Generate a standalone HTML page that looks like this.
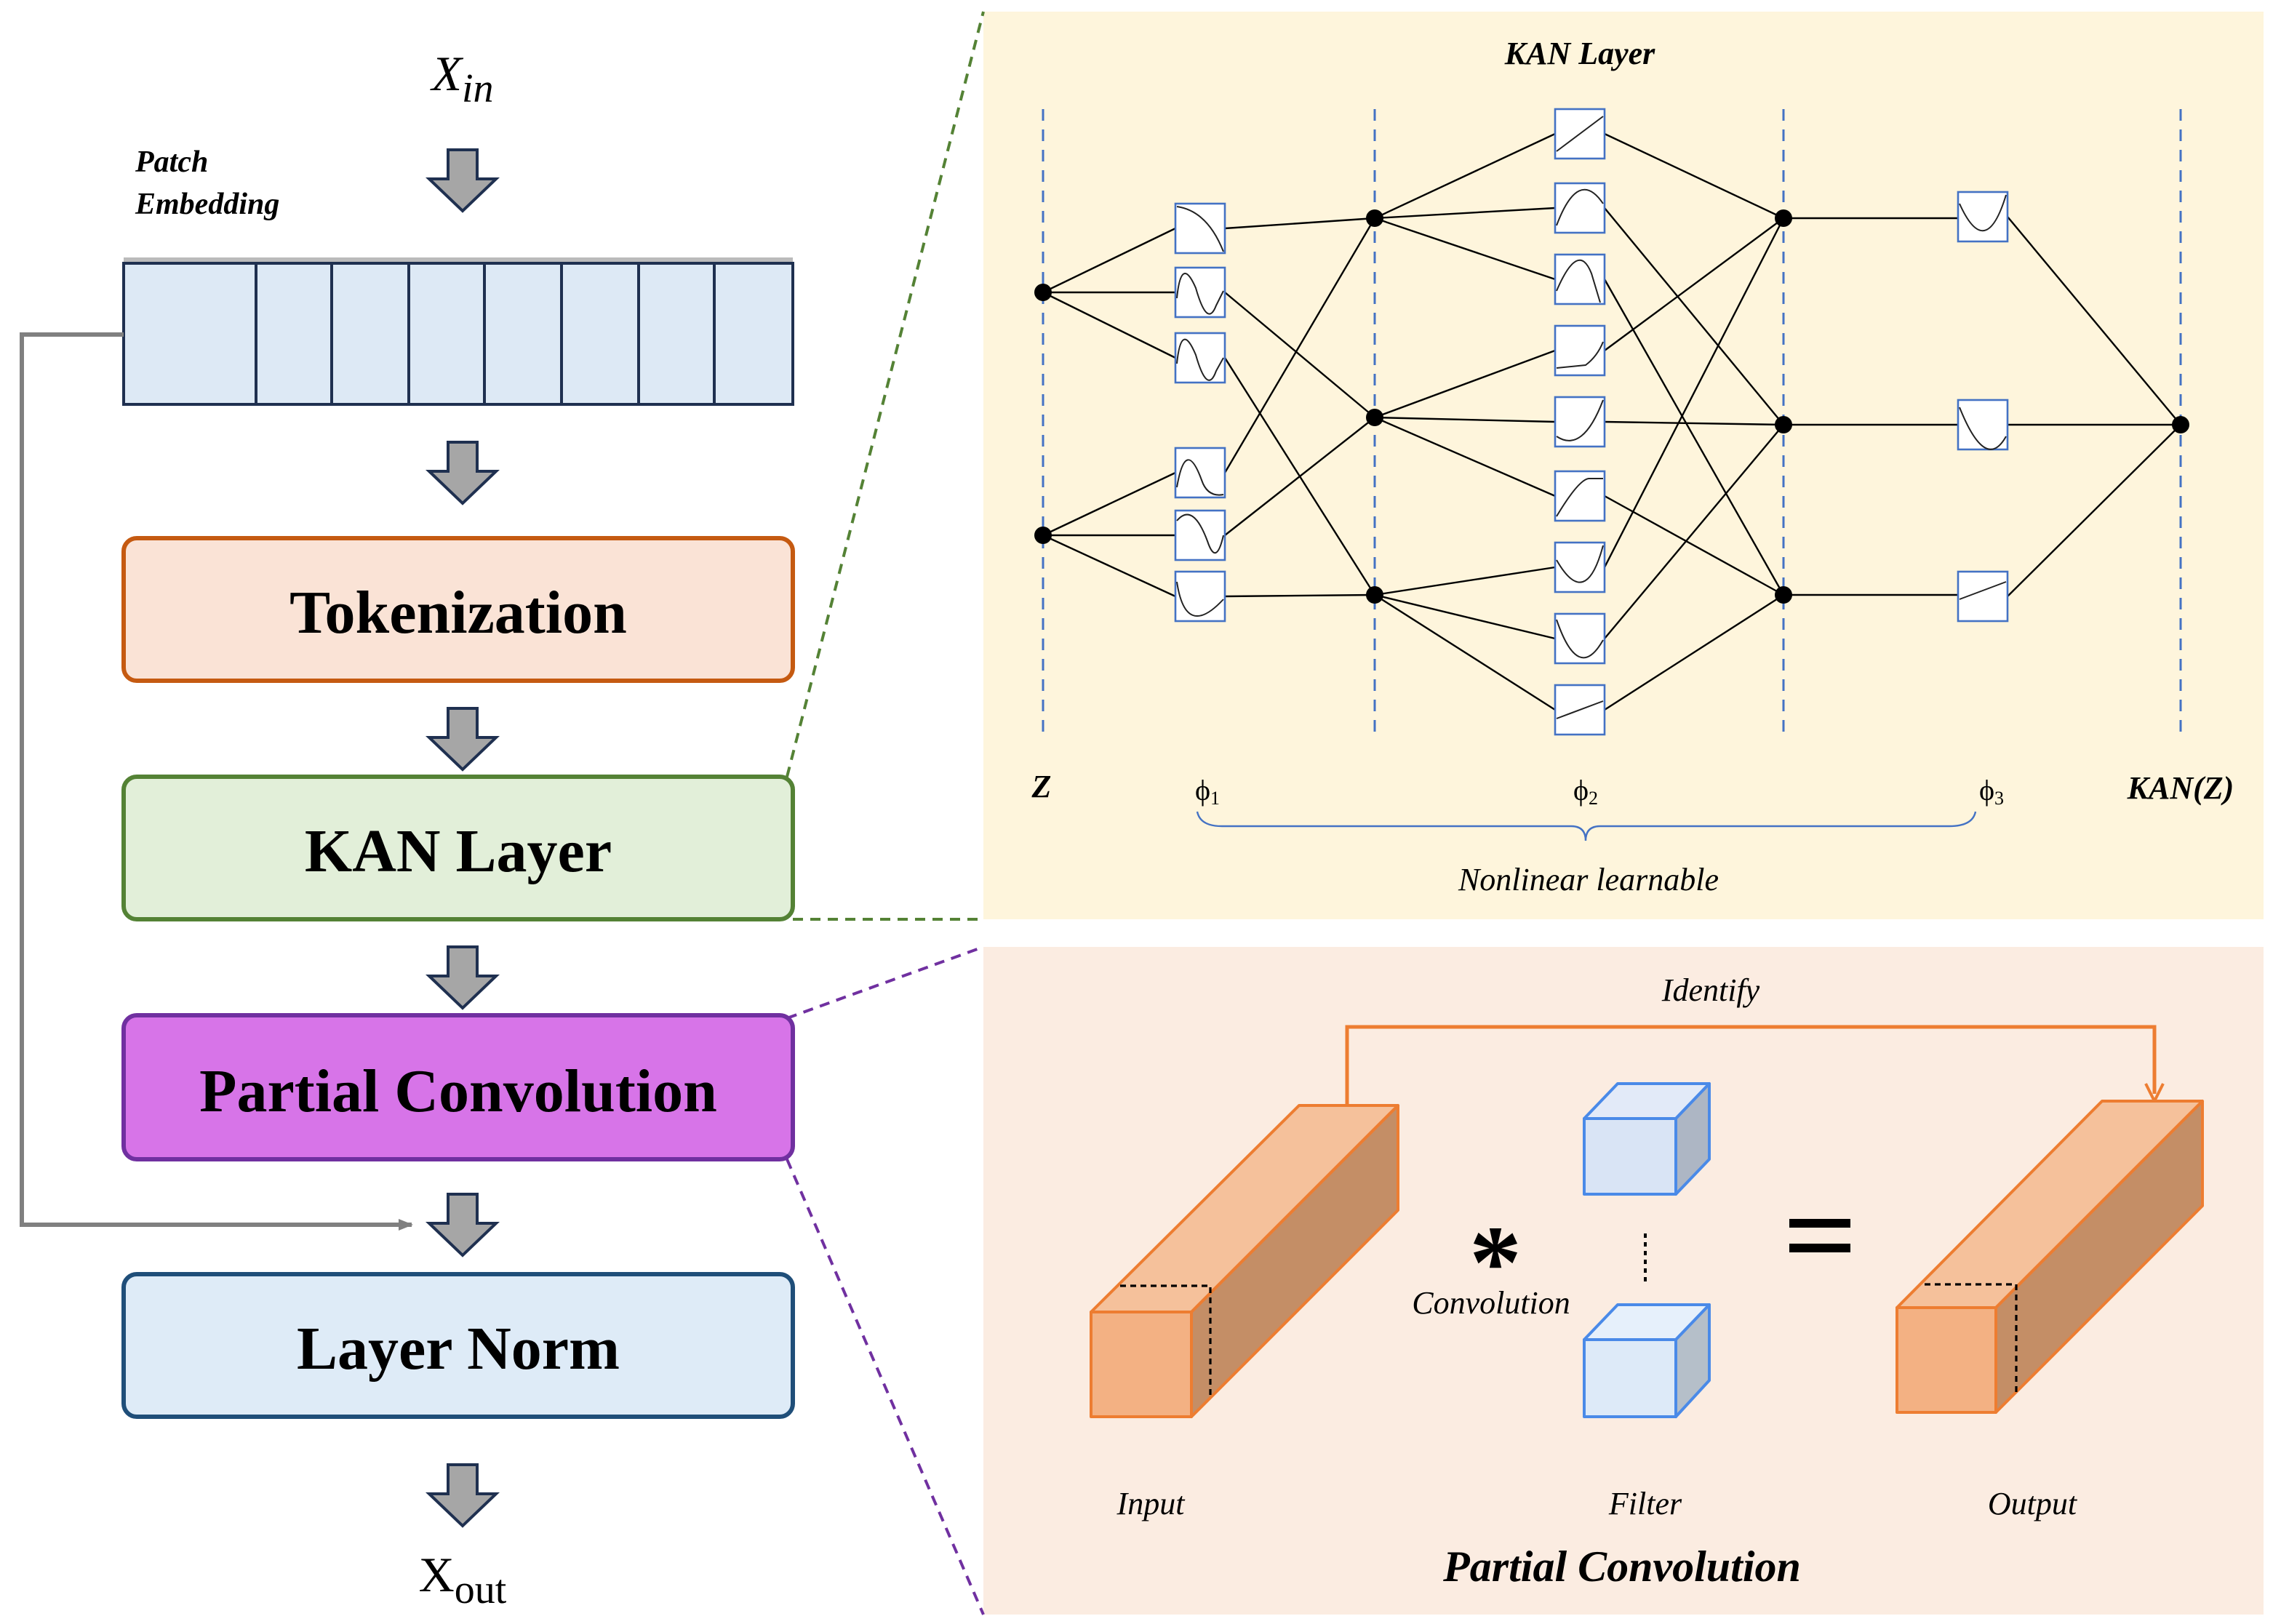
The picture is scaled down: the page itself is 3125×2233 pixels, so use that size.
<!DOCTYPE html>
<html><head><meta charset="utf-8"><style>
html,body{margin:0;padding:0;background:#fff;}
svg{display:block;}
text{font-family:"Liberation Serif",serif;}
</style></head><body>
<svg width="3125" height="2233" viewBox="0 0 1562.5 1116.5" xmlns="http://www.w3.org/2000/svg">
<defs>
<g id="arr"><path d="M-10,0 H10 V20 H23 L0,42 L-23,20 H-10 Z" fill="#a6a6a6" stroke="#1f3050" stroke-width="2"/></g>
<marker id="ga" markerWidth="10" markerHeight="10" refX="9" refY="5" orient="auto" markerUnits="userSpaceOnUse"><path d="M0,1 L10,5 L0,9 Z" fill="#808080"/></marker>
</defs>
<rect width="1562.5" height="1116.5" fill="#fff"/>
<rect x="676" y="8" width="880" height="624" fill="#fef5dc"/>
<rect x="676" y="651" width="880" height="459" fill="#fbece1"/>
<g fill="none" stroke-width="2" stroke-dasharray="7,5">
<line x1="541" y1="534" x2="676" y2="8" stroke="#548235"/>
<line x1="545" y1="632" x2="676" y2="632" stroke="#548235"/>
<line x1="541" y1="700" x2="676" y2="651" stroke="#7030a0"/>
<line x1="541" y1="797" x2="676" y2="1110" stroke="#7030a0"/>
</g>
<text x="318" y="62" font-size="34" font-style="italic" text-anchor="middle">X<tspan font-size="28" dy="8">in</tspan></text>
<text x="93" y="118" font-size="21" font-style="italic" font-weight="bold">Patch</text>
<text x="93" y="147" font-size="21" font-style="italic" font-weight="bold">Embedding</text>
<use href="#arr" x="318" y="103"/>
<rect x="85" y="177" width="460" height="4" fill="#777" opacity="0.5"/>
<rect x="85" y="181" width="460" height="97" fill="#dde9f5" stroke="#1f3050" stroke-width="2"/>
<g stroke="#1f3050" stroke-width="2">
<line x1="176" y1="181" x2="176" y2="278"/><line x1="228" y1="181" x2="228" y2="278"/><line x1="281" y1="181" x2="281" y2="278"/><line x1="333" y1="181" x2="333" y2="278"/><line x1="386" y1="181" x2="386" y2="278"/><line x1="439" y1="181" x2="439" y2="278"/><line x1="491" y1="181" x2="491" y2="278"/>
</g>
<polyline points="85,230 15,230 15,842 283,842" fill="none" stroke="#808080" stroke-width="3" marker-end="url(#ga)"/>
<use href="#arr" x="318" y="304"/>
<rect x="85" y="370" width="460" height="98" rx="9" fill="#fae3d6" stroke="#c55a11" stroke-width="3"/>
<text x="315" y="435" font-size="42" font-weight="bold" text-anchor="middle">Tokenization</text>
<use href="#arr" x="318" y="487"/>
<rect x="85" y="534" width="460" height="98" rx="9" fill="#e2efd9" stroke="#548235" stroke-width="3"/>
<text x="315" y="599" font-size="42" font-weight="bold" text-anchor="middle">KAN Layer</text>
<use href="#arr" x="318" y="651"/>
<rect x="85" y="698" width="460" height="99" rx="9" fill="#d774e8" stroke="#7030a0" stroke-width="3"/>
<text x="315" y="764" font-size="42" font-weight="bold" text-anchor="middle">Partial Convolution</text>
<use href="#arr" x="318" y="821"/>
<rect x="85" y="876" width="460" height="98" rx="9" fill="#deebf7" stroke="#1f4e79" stroke-width="3"/>
<text x="315" y="941" font-size="42" font-weight="bold" text-anchor="middle">Layer Norm</text>
<use href="#arr" x="318" y="1007"/>
<text x="318" y="1094" font-size="34" text-anchor="middle">X<tspan font-size="28" dy="8">out</tspan></text>

<text x="1086" y="44" font-size="22" font-style="italic" font-weight="bold" text-anchor="middle">KAN Layer</text>
<g stroke="#4472c4" stroke-width="1.5" stroke-dasharray="8,6">
<line x1="717" y1="75" x2="717" y2="508"/><line x1="945" y1="75" x2="945" y2="508"/><line x1="1226" y1="75" x2="1226" y2="508"/><line x1="1499" y1="75" x2="1499" y2="508"/>
</g>
<g stroke="#000" stroke-width="1.2" fill="none">
<line x1="717" y1="201" x2="808" y2="157"/><line x1="717" y1="201" x2="808" y2="201"/><line x1="717" y1="201" x2="808" y2="246"/>
<line x1="717" y1="368" x2="808" y2="325"/><line x1="717" y1="368" x2="808" y2="368"/><line x1="717" y1="368" x2="808" y2="410"/>
<line x1="842" y1="157" x2="945" y2="150"/><line x1="842" y1="201" x2="945" y2="287"/><line x1="842" y1="246" x2="945" y2="409"/>
<line x1="842" y1="325" x2="945" y2="150"/><line x1="842" y1="368" x2="945" y2="287"/><line x1="842" y1="410" x2="945" y2="409"/>
<line x1="945" y1="150" x2="1069" y2="92"/><line x1="945" y1="150" x2="1069" y2="143"/><line x1="945" y1="150" x2="1069" y2="192"/>
<line x1="945" y1="287" x2="1069" y2="241"/><line x1="945" y1="287" x2="1069" y2="290"/><line x1="945" y1="287" x2="1069" y2="341"/>
<line x1="945" y1="409" x2="1069" y2="390"/><line x1="945" y1="409" x2="1069" y2="439"/><line x1="945" y1="409" x2="1069" y2="488"/>
<line x1="1103" y1="92" x2="1226" y2="150"/><line x1="1103" y1="143" x2="1226" y2="292"/><line x1="1103" y1="192" x2="1226" y2="409"/>
<line x1="1103" y1="241" x2="1226" y2="150"/><line x1="1103" y1="290" x2="1226" y2="292"/><line x1="1103" y1="341" x2="1226" y2="409"/>
<line x1="1103" y1="390" x2="1226" y2="150"/><line x1="1103" y1="439" x2="1226" y2="292"/><line x1="1103" y1="488" x2="1226" y2="409"/>
<line x1="1226" y1="150" x2="1346" y2="150"/><line x1="1226" y1="292" x2="1346" y2="292"/><line x1="1226" y1="409" x2="1346" y2="409"/>
<line x1="1380" y1="149" x2="1499" y2="292"/><line x1="1380" y1="292" x2="1499" y2="292"/><line x1="1380" y1="410" x2="1499" y2="292"/>
</g>
<g fill="#000">
<circle cx="717" cy="201" r="6"/><circle cx="717" cy="368" r="6"/>
<circle cx="945" cy="150" r="6"/><circle cx="945" cy="287" r="6"/><circle cx="945" cy="409" r="6"/>
<circle cx="1226" cy="150" r="6"/><circle cx="1226" cy="292" r="6"/><circle cx="1226" cy="409" r="6"/>
<circle cx="1499" cy="292" r="6"/>
</g>
<g fill="#fff" stroke="#4472c4" stroke-width="1.3">
<rect x="808" y="140" width="34" height="34"/><rect x="808" y="184" width="34" height="34"/><rect x="808" y="229" width="34" height="34"/>
<rect x="808" y="308" width="34" height="34"/><rect x="808" y="351" width="34" height="34"/><rect x="808" y="393" width="34" height="34"/>
<rect x="1069" y="75" width="34" height="34"/><rect x="1069" y="126" width="34" height="34"/><rect x="1069" y="175" width="34" height="34"/>
<rect x="1069" y="224" width="34" height="34"/><rect x="1069" y="273" width="34" height="34"/><rect x="1069" y="324" width="34" height="34"/>
<rect x="1069" y="373" width="34" height="34"/><rect x="1069" y="422" width="34" height="34"/><rect x="1069" y="471" width="34" height="34"/>
<rect x="1346" y="132" width="34" height="34"/><rect x="1346" y="275" width="34" height="34"/><rect x="1346" y="393" width="34" height="34"/>
</g>
<g fill="none" stroke="#222" stroke-width="1">
<path d="M809,142 Q830,145 841,173"/>
<path d="M809,205 Q812,175 822,198 Q830,226 836,210 L841,200"/>
<path d="M809,250 Q812,220 822,244 Q830,272 836,255 L841,246"/>
<path d="M809,335 Q815,300 826,330 Q830,342 841,340"/>
<path d="M809,358 Q820,345 830,372 Q836,390 841,368"/>
<path d="M809,400 Q815,440 841,412"/>
<path d="M1070,104 L1102,80"/>
<path d="M1070,155 Q1085,115 1102,140"/>
<path d="M1070,200 Q1085,165 1094,188 L1100,208"/>
<path d="M1070,253 L1090,251 Q1098,245 1102,235"/>
<path d="M1070,300 Q1088,312 1102,275"/>
<path d="M1070,355 Q1085,330 1092,329 L1102,329"/>
<path d="M1070,385 Q1090,420 1102,375"/>
<path d="M1070,426 Q1085,470 1102,440"/>
<path d="M1070,494 L1102,482"/>
<path d="M1347,140 Q1365,180 1379,134"/>
<path d="M1347,280 Q1365,325 1379,300"/>
<path d="M1347,412 L1379,400"/>
</g>
<text x="716" y="548" font-size="22" font-style="italic" font-weight="bold" text-anchor="middle">Z</text>
<text x="830" y="550" font-size="20" text-anchor="middle" font-family="DejaVu Sans, sans-serif">ϕ<tspan font-size="13" dy="3">1</tspan></text>
<text x="1090" y="550" font-size="20" text-anchor="middle" font-family="DejaVu Sans, sans-serif">ϕ<tspan font-size="13" dy="3">2</tspan></text>
<text x="1369" y="550" font-size="20" text-anchor="middle" font-family="DejaVu Sans, sans-serif">ϕ<tspan font-size="13" dy="3">3</tspan></text>
<text x="1499" y="549" font-size="22" font-style="italic" font-weight="bold" text-anchor="middle">KAN(Z)</text>
<path d="M823,558 Q825,568 840,568 L1080,568 Q1090,568 1090,578 Q1090,568 1100,568 L1340,568 Q1356,568 1358,558" fill="none" stroke="#4472c4" stroke-width="1.2"/>
<text x="1092" y="612" font-size="22" font-style="italic" text-anchor="middle">Nonlinear learnable</text>

<text x="1176" y="688" font-size="22" font-style="italic" text-anchor="middle">Identify</text>
<polyline points="926,760 926,706 1481,706 1481,752" fill="none" stroke="#ed7d31" stroke-width="2.5"/>
<path d="M1475,745 L1481,757 L1487,745" fill="none" stroke="#ed7d31" stroke-width="2"/>
<g stroke="#ed7d31" stroke-width="2" stroke-linejoin="round">
<polygon points="750,902 819,902 961,760 893,760" fill="#f5c19b"/>
<polygon points="819,902 961,760 961,832 819,974" fill="#c48e66"/>
<rect x="750" y="902" width="69" height="72" fill="#f3b183"/>
<polygon points="1304,899 1372,899 1514,757 1445,757" fill="#f5c19b"/>
<polygon points="1372,899 1514,757 1514,829 1372,971" fill="#c48e66"/>
<rect x="1304" y="899" width="68" height="72" fill="#f3b183"/>
</g>
<g stroke="#000" stroke-width="1.6" stroke-dasharray="4,3" fill="none">
<polyline points="770,884 832,884 832,960"/>
<polyline points="1323,883 1386,883 1386,960"/>
</g>
<g stroke="#4a8ae8" stroke-width="2" stroke-linejoin="round">
<polygon points="1089,769 1112,745 1175,745 1152,769" fill="#e2eaf8"/>
<polygon points="1152,769 1175,745 1175,797 1152,821" fill="#adb6c4"/>
<rect x="1089" y="769" width="63" height="52" fill="#d9e4f5"/>
<polygon points="1089,921 1112,897 1175,897 1152,921" fill="#e6f0fb"/>
<polygon points="1152,921 1175,897 1175,949 1152,974" fill="#b5bfc9"/>
<rect x="1089" y="921" width="63" height="53" fill="#ddeaf8"/>
</g>
<line x1="1131" y1="848" x2="1131" y2="882" stroke="#000" stroke-width="2" stroke-dasharray="3,3"/>
<text x="1028" y="892" font-size="72" font-weight="bold" text-anchor="middle">*</text>
<text x="1025" y="903" font-size="22" font-style="italic" text-anchor="middle">Convolution</text>
<rect x="1230" y="838" width="42" height="6" fill="#000"/>
<rect x="1230" y="855" width="42" height="6" fill="#000"/>
<text x="791" y="1041" font-size="22" font-style="italic" text-anchor="middle">Input</text>
<text x="1131" y="1041" font-size="22" font-style="italic" text-anchor="middle">Filter</text>
<text x="1397" y="1041" font-size="22" font-style="italic" text-anchor="middle">Output</text>
<text x="1115" y="1087" font-size="30" font-style="italic" font-weight="bold" text-anchor="middle">Partial Convolution</text>
</svg>
</body></html>
